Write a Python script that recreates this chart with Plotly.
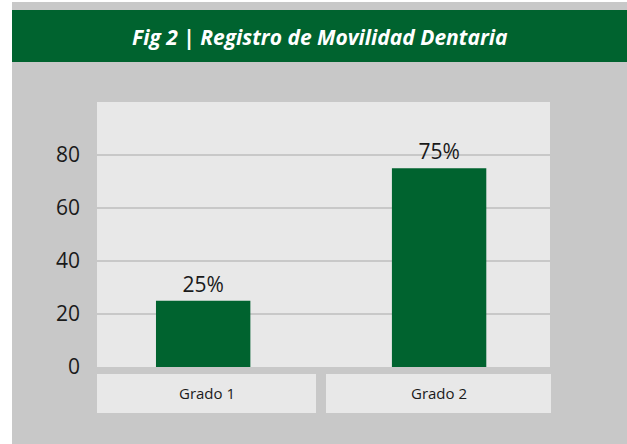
import plotly.graph_objects as go

# datos
categorias = ['Grado 1', 'Grado 2']
porcentajes = [25, 75]
etiquetas = ['25%', '75%']
ticks_y = [0, 20, 40, 60, 80]

VERDE = '#00632f'
GRIS = '#c8c8c8'
GRIS_CLARO = '#e8e8e8'

W, H = 627, 444
L, R, T, B = 97, 550, 102, 367   # area del grafico en pixeles


def fx(x):
    return (x - L) / (R - L)


def fy(y):
    return (B - y) / (B - T)


def rect(x0, y0, x1, y1, color):
    return dict(type='rect', xref='paper', yref='paper', layer='below',
                x0=fx(x0), x1=fx(x1), y0=fy(y1), y1=fy(y0),
                fillcolor=color, line={'width': 0})


fig = go.Figure(go.Bar(
    x=categorias,
    y=porcentajes,
    text=etiquetas,
    textposition='outside',
    textfont={'size': 21, 'color': '#1a1a1a', 'family': 'Open Sans'},
    marker={'color': VERDE, 'line': {'width': 0}},
    cliponaxis=False,
    hoverinfo='skip',
))

shapes = [
    rect(12, 2, 627, 444, GRIS),          # panel
    rect(12, 10, 627, 62, VERDE),         # cabecera
    rect(L, T, R, B, GRIS_CLARO),         # fondo del grafico
    rect(97, 374, 316, 413, GRIS_CLARO),  # caja Grado 1
    rect(326, 374, 551, 413, GRIS_CLARO), # caja Grado 2
]

annotations = [
    dict(text='<b><i>Fig 2 | Registro de Movilidad Dentaria</i></b>',
         xref='paper', yref='paper', x=fx(320), y=fy(37),
         showarrow=False, font={'size': 21, 'color': 'white', 'family': 'Open Sans'},
         xanchor='center', yanchor='middle'),
]
for cat, cx in zip(categorias, [206.5, 438.5]):
    annotations.append(dict(text=cat, xref='paper', yref='paper', x=fx(cx), y=fy(393),
                            showarrow=False, xanchor='center', yanchor='middle',
                            font={'size': 15, 'color': '#1a1a1a', 'family': 'Open Sans'}))

fig.update_layout(
    width=W, height=H,
    margin={'l': L, 'r': W - R, 't': T, 'b': H - B, 'pad': 0},
    paper_bgcolor='white',
    plot_bgcolor='rgba(0,0,0,0)',
    bargap=0.6,
    showlegend=False,
    shapes=shapes,
    annotations=annotations,
    xaxis={'range': [-0.45, 1.47], 'showticklabels': False, 'showgrid': False,
           'zeroline': False, 'fixedrange': True},
    yaxis={'range': [0, 100], 'tickvals': ticks_y, 'showgrid': True,
           'gridcolor': GRIS, 'gridwidth': 2, 'zeroline': False,
           'ticklabelstandoff': 16,
           'tickfont': {'size': 21, 'color': '#1a1a1a', 'family': 'Open Sans'},
           'fixedrange': True},
)

fig.write_html('out.html', config={'displayModeBar': False},
               post_script="document.body.style.margin = '0';")
